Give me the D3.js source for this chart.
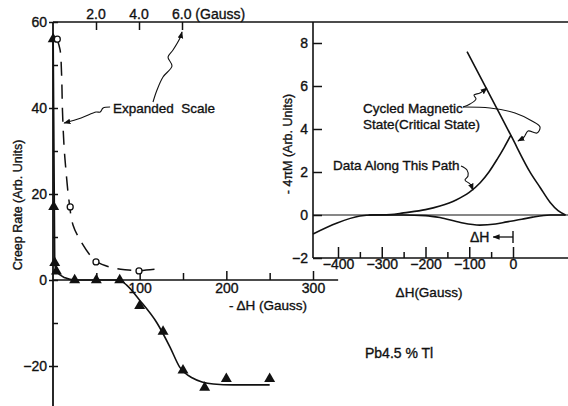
<!DOCTYPE html>
<html>
<head>
<meta charset="utf-8">
<script src="https://cdn.jsdelivr.net/npm/d3@7"></script>
<style>
  html, body { margin: 0; padding: 0; background: #fff; }
  svg { display: block; }
  text { font-family: "Liberation Sans", Arial, sans-serif; fill: #111; stroke: #111; stroke-width: 0.35px; }
</style>
</head>
<body>
<svg id="chart" width="568" height="406"></svg>
<script>
// ---- Creep rate vs. field step (Pb 4.5 % Tl) ----
// triangles: main -ΔH scale; open circles: same low-field points on the expanded scale
const creepDH   = [0.2, 0.8, 2, 4, 25, 50, 77, 100, 127, 150, 175, 200, 250];
const creepRate = [56, 17, 4, 2, 0, 0, 0, -6, -12, -21, -25, -23, -23];
const expandedDH   = [0.2, 0.8, 2.0, 4.0];
const expandedRate = [56, 17, 4.2, 2.1];

// hand-drawn guide curves through the points
const creepFitDH   = [0.2, 2, 4, 14, 25, 76, 85, 100, 120, 135, 146, 161, 185, 208, 250];
const creepFitRate = [56, 4, 2, 0.5, 0, 0, -1.2, -4.7, -10, -15.6, -20.2, -22.8, -24.2, -24.4, -24.4];
const expandedFitDH   = [0.19, 0.33, 0.4, 0.44, 0.51, 0.6, 0.74, 0.93, 1.26, 1.72, 2.05, 2.65, 3.35, 4.0, 4.88];
const expandedFitRate = [56, 53.5, 47.7, 39.5, 31.4, 25.6, 18.6, 12.8, 9.3, 5.8, 4.2, 3.0, 2.4, 2.2, 2.6];

// tick values
const mainXTicksMajor = [100, 200, 300];
const mainXTicksMinor = [50, 150, 250];
const mainYLabelled   = [60, 40, 20, 0, -20];
const mainYAll        = [60, 50, 40, 30, 20, 10, 0, -10, -20];
const expandedTicks   = [2.0, 4.0, 6.0];

// ---- Inset: -4πM vs ΔH ----
const criticalDH = [-105, -55, -5, 40, 62, 85, 103, 120];
const criticalM  = [7.6, 5.66, 3.71, 1.96, 1.28, 0.58, 0.2, 0];
const upperDH = [-330, -280, -250, -200, -167, -130, -100, -75, -55, -36, -20, -5];
const upperM  = [0, 0.02, 0.1, 0.25, 0.42, 0.7, 1.05, 1.5, 2.0, 2.6, 3.15, 3.71];
const lowerDH = [-457, -402, -350, -320, -300, -250, -200, -167, -120, -76, -40, -14, 20, 45, 85, 120];
const lowerM  = [-0.88, -0.37, -0.05, 0, 0, 0, -0.03, -0.12, -0.35, -0.47, -0.42, -0.32, -0.2, -0.1, 0, 0];
const insetXTicksMajor = [-400, -300, -200, -100, 0];
const insetXTicksMinor = [-350, -250, -150, -50];
const insetYTicks = [8, 6, 4, 2, 0, -2];

const INK = "#111";
const svg = d3.select("#chart");

// arrowhead marker for annotation pointers
svg.append("defs").append("marker")
  .attr("id", "head").attr("viewBox", "0 0 10 10")
  .attr("refX", 9).attr("refY", 5)
  .attr("markerWidth", 7).attr("markerHeight", 7)
  .attr("markerUnits", "userSpaceOnUse")
  .attr("orient", "auto")
  .append("path").attr("d", "M0,1 L10,5 L0,9 Z").attr("fill", INK);

// ---------- main panel scales ----------
const x    = d3.scaleLinear().domain([0, 300]).range([53, 313]);
const xTop = d3.scaleLinear().domain([0, 6]).range([53, 182]);
const y    = d3.scaleLinear().domain([-30, 60]).range([409, 22]);

const styleAxis = g => {
  g.selectAll(".domain").remove();
  g.selectAll(".tick line").attr("stroke", INK).attr("stroke-width", 1.5);
  g.selectAll(".tick text").style("font-size", "14px").attr("fill", INK);
};

// frame line along the top, shared by both panels
svg.append("line").attr("x1", x(0)).attr("x2", 568).attr("y1", y(60)).attr("y2", y(60))
  .attr("stroke", INK).attr("stroke-width", 1.6);

// main axes lines
svg.append("line").attr("x1", x(0)).attr("x2", x(0)).attr("y1", y(60)).attr("y2", 406)
  .attr("stroke", INK).attr("stroke-width", 1.8);
svg.append("line").attr("x1", x(0)).attr("x2", x(329)).attr("y1", y(0)).attr("y2", y(0))
  .attr("stroke", INK).attr("stroke-width", 1.6);

// main x ticks (pointing up, labels below)
svg.append("g").attr("transform", `translate(0,${y(0)})`)
  .call(d3.axisBottom(x).tickValues(mainXTicksMajor).tickSize(-9).tickPadding(3).tickFormat(d3.format("d")))
  .call(styleAxis);
svg.append("g").attr("transform", `translate(0,${y(0)})`)
  .call(d3.axisBottom(x).tickValues(mainXTicksMinor).tickSize(-7).tickFormat(""))
  .call(styleAxis);

// main y ticks
svg.append("g").attr("transform", `translate(${x(0)},0)`)
  .call(d3.axisLeft(y).tickValues(mainYLabelled).tickSize(4).tickPadding(2).tickFormat(d3.format("d")))
  .call(styleAxis);
svg.append("g").attr("transform", `translate(${x(0)},0)`)
  .call(d3.axisRight(y).tickValues(mainYAll).tickSize(5).tickFormat(""))
  .call(styleAxis);

// expanded scale along the top
svg.append("g").attr("transform", `translate(0,${y(60)})`)
  .call(d3.axisBottom(xTop).tickValues(expandedTicks).tickSize(8).tickFormat(""))
  .call(styleAxis);
svg.append("g").selectAll("text").data(expandedTicks).join("text")
  .attr("x", d => xTop(d) + (d === 6 ? -10 : 0))
  .attr("y", 19)
  .attr("text-anchor", d => d === 6 ? "start" : "middle")
  .style("font-size", "14px")
  .text(d => d3.format(".1f")(d) + (d === 6 ? " (Gauss)" : ""));

// axis titles
svg.append("text").attr("transform", "translate(22,205) rotate(-90)")
  .attr("text-anchor", "middle").style("font-size", "12.5px")
  .text("Creep Rate (Arb. Units)");
svg.append("text").attr("x", 268).attr("y", 310).attr("text-anchor", "middle")
  .style("font-size", "13.5px").text("- \u0394H (Gauss)");

// data curves
const fitLine = d3.line().curve(d3.curveMonotoneX);
svg.append("path")
  .attr("d", fitLine(creepFitDH.map((d, i) => [x(d), y(creepFitRate[i])])))
  .attr("fill", "none").attr("stroke", INK).attr("stroke-width", 1.6);
svg.append("path")
  .attr("d", d3.line().curve(d3.curveCatmullRom)(expandedFitDH.map((d, i) => [xTop(d), y(expandedFitRate[i])])))
  .attr("fill", "none").attr("stroke", INK).attr("stroke-width", 1.5)
  .attr("stroke-dasharray", "14,9");

// points
svg.append("g").selectAll("path").data(creepDH).join("path")
  .attr("transform", (d, i) => `translate(${x(d)},${y(creepRate[i])})`)
  .attr("d", d3.symbol(d3.symbolTriangle, 52)())
  .attr("fill", INK);
svg.append("g").selectAll("circle").data(expandedDH).join("circle")
  .attr("cx", d => xTop(d)).attr("cy", (d, i) => y(expandedRate[i]))
  .attr("r", 3).attr("fill", "#fff").attr("stroke", INK).attr("stroke-width", 1.3);

// annotations in main panel
svg.append("text").attr("x", 113).attr("y", 113).style("font-size", "13.5px")
  .attr("xml:space", "preserve").text("Expanded  Scale");
const squiggle = d3.line().curve(d3.curveCatmullRom);
{
  const hx = xTop(0.47), hy = y(36.5);
  const pts = [[47, -16], [40, -15], [37, -11], [33, -11], [18, -5], [1, 0]].map(p => [hx + p[0], hy + p[1]]);
  svg.append("path").attr("d", squiggle(pts)).attr("fill", "none")
    .attr("stroke", INK).attr("stroke-width", 1.1).attr("marker-end", "url(#head)");
}
{
  const hx = xTop(6), hy = y(60) + 10;
  const pts = [[-29, 70], [-25, 58], [-19, 45], [-10, 34], [-14, 25], [-9, 18], [-2, 6], [0, 0]].map(p => [hx + p[0], hy + p[1]]);
  svg.append("path").attr("d", squiggle(pts)).attr("fill", "none")
    .attr("stroke", INK).attr("stroke-width", 1.1).attr("marker-end", "url(#head)");
}
svg.append("text").attr("x", 365).attr("y", 358).style("font-size", "14px").text("Pb4.5 % Tl");

// ---------- inset ----------
const ix = d3.scaleLinear().domain([-400, 0]).range([338, 513]);
const iy = d3.scaleLinear().domain([-2, 8]).range([258, 43]);
const iLeft = 313, iRight = 568;

svg.append("line").attr("x1", iLeft).attr("x2", iLeft).attr("y1", y(60)).attr("y2", iy(-2))
  .attr("stroke", INK).attr("stroke-width", 1.6);
svg.append("line").attr("x1", iLeft).attr("x2", iRight).attr("y1", iy(-2)).attr("y2", iy(-2))
  .attr("stroke", INK).attr("stroke-width", 1.6);
svg.append("line").attr("x1", iLeft).attr("x2", iRight).attr("y1", iy(0)).attr("y2", iy(0))
  .attr("stroke", INK).attr("stroke-width", 1.2);

svg.append("g").attr("transform", `translate(0,${iy(-2)})`)
  .call(d3.axisBottom(ix).tickValues(insetXTicksMajor).tickSize(-11).tickPadding(1))
  .call(styleAxis);
svg.append("g").attr("transform", `translate(0,${iy(-2)})`)
  .call(d3.axisBottom(ix).tickValues(insetXTicksMinor).tickSize(-6).tickFormat(""))
  .call(styleAxis);
svg.append("g").attr("transform", `translate(${iLeft},0)`)
  .call(d3.axisLeft(iy).tickValues(insetYTicks).tickSize(-9).tickPadding(5))
  .call(styleAxis);

svg.append("text").attr("transform", "translate(292,144) rotate(-90)")
  .attr("text-anchor", "middle").style("font-size", "12.5px")
  .text("- 4\u03c0M (Arb. Units)");
svg.append("text").attr("x", 429).attr("y", 297).attr("text-anchor", "middle")
  .style("font-size", "13.5px").text("\u0394H(Gauss)");

const iLine = d3.line().curve(d3.curveMonotoneX);
[[criticalDH, criticalM], [upperDH, upperM], [lowerDH, lowerM]].forEach(([xs, ys]) => {
  svg.append("path")
    .attr("d", iLine(xs.map((d, i) => [ix(d), iy(ys[i])])))
    .attr("fill", "none").attr("stroke", INK).attr("stroke-width", 1.6);
});

// inset annotations
svg.append("text").attr("x", 363).attr("y", 113).style("font-size", "13.5px").text("Cycled Magnetic");
svg.append("text").attr("x", 363).attr("y", 129).style("font-size", "13.5px").text("State(Critical State)");
svg.append("text").attr("x", 333).attr("y", 170).style("font-size", "13.5px").text("Data Along This Path");
{
  const ox = 463, oy = 107;
  const a = [[0, 0], [7, -3], [13, -8], [11, -12], [17, -14], [24, -19]].map(p => [ox + p[0], oy + p[1]]);
  svg.append("path").attr("d", squiggle(a)).attr("fill", "none")
    .attr("stroke", INK).attr("stroke-width", 1.1).attr("marker-end", "url(#head)");
  const b = [[0, 0], [27, 1], [52, 6], [69, 14], [77, 20], [74, 26], [65, 24], [61, 30], [55, 34]].map(p => [ox + p[0], oy + p[1]]);
  svg.append("path").attr("d", squiggle(b)).attr("fill", "none")
    .attr("stroke", INK).attr("stroke-width", 1.1).attr("marker-end", "url(#head)");
}
{
  const ox = 461, oy = 166;
  const c = [[0, 0], [6, 4], [7, 10], [4, 14], [9, 18], [12, 24]].map(p => [ox + p[0], oy + p[1]]);
  svg.append("path").attr("d", squiggle(c)).attr("fill", "none")
    .attr("stroke", INK).attr("stroke-width", 1.1).attr("marker-end", "url(#head)");
}
// ΔH step indicator
svg.append("text").attr("x", 470).attr("y", 242).style("font-size", "14px").text("\u0394H");
svg.append("line").attr("x1", ix(0)).attr("x2", ix(-45)).attr("y1", 237).attr("y2", 237)
  .attr("stroke", INK).attr("stroke-width", 1.3).attr("marker-end", "url(#head)");
svg.append("line").attr("x1", ix(0)).attr("x2", ix(0)).attr("y1", 231).attr("y2", 243)
  .attr("stroke", INK).attr("stroke-width", 1.4);
</script>
</body>
</html>
